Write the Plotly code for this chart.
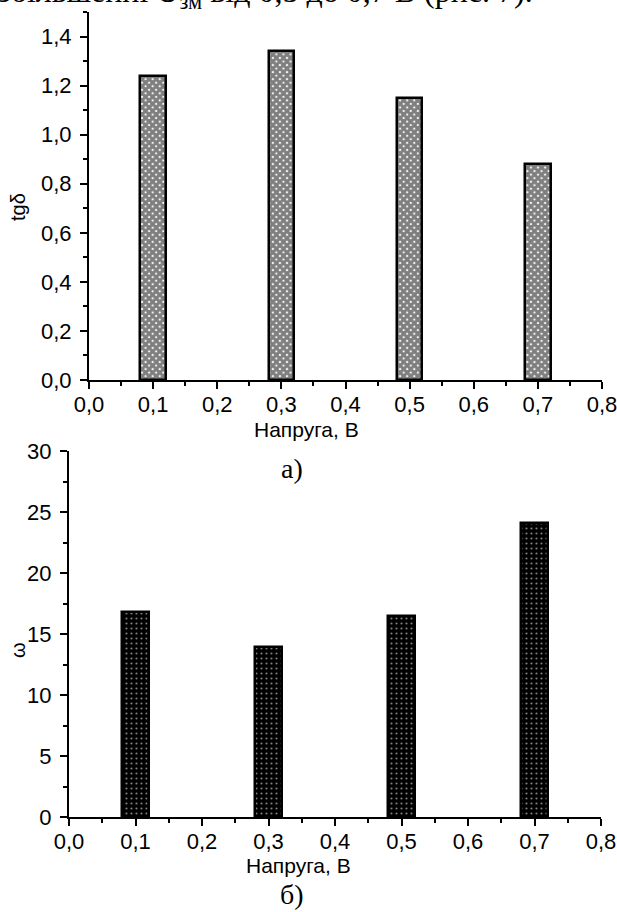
import plotly.graph_objects as go

# ---- data ----
voltage = [0.1, 0.3, 0.5, 0.7]
tg_delta = [1.24, 1.34, 1.15, 0.88]
omega = [16.8, 13.9, 16.5, 24.1]

x_ticks = [0.0, 0.1, 0.2, 0.3, 0.4, 0.5, 0.6, 0.7, 0.8]
y1_ticks = [0.0, 0.2, 0.4, 0.6, 0.8, 1.0, 1.2, 1.4]
y2_ticks = [0, 5, 10, 15, 20, 25, 30]

xlabel = "Напруга, В"
ylabel_top = "tgδ"
ylabel_bottom = "ω"
caption_top = "а)"
caption_bottom = "б)"
header_text = "збільшенні U<sub>зм</sub> від 0,5 до 0,7 В (рис. 7)."

W, H = 617, 912

def px(x):
    return x / W

def py(y):
    return 1 - y / H

fig = go.Figure()

fig.add_trace(go.Bar(
    x=voltage, y=tg_delta, width=0.04, xaxis="x", yaxis="y",
    marker=dict(color="white", line=dict(color="black", width=2.5),
                pattern=dict(shape="x", fgcolor="black", bgcolor="white",
                             size=5, solidity=0.85)),
    showlegend=False,
))
fig.add_trace(go.Bar(
    x=voltage, y=omega, width=0.042, xaxis="x2", yaxis="y2",
    marker=dict(color="black", line=dict(color="black", width=2.5),
                pattern=dict(shape=".", fgcolor="white", bgcolor="black",
                             size=5, solidity=0.15)),
    showlegend=False,
))

tickfont = dict(family="Liberation Sans, Arial", size=22, color="black")
axis_common = dict(showline=True, linewidth=2, linecolor="black", showgrid=False,
                   zeroline=False, ticks="outside", ticklen=7, tickwidth=2,
                   tickcolor="black", tickfont=tickfont, automargin=False,
                   ticklabeloverflow="allow")

fig.update_layout(
    width=W, height=H,
    margin=dict(l=0, r=0, t=0, b=0),
    paper_bgcolor="white", plot_bgcolor="white",
    separators=", ",
    bargap=0,
    xaxis=dict(domain=[px(89), px(602)], range=[0, 0.8], anchor="y",
               tickvals=x_ticks, tickformat=".1f", ticklabelstandoff=-3,
               minor=dict(dtick=0.05, tick0=0, ticks="outside", ticklen=4,
                          tickwidth=2, tickcolor="black"),
               **axis_common),
    yaxis=dict(domain=[py(380), py(12)], range=[0, 1.5], anchor="x",
               tickvals=y1_ticks, tickformat=".1f", ticklabelstandoff=4,
               minor=dict(dtick=0.1, tick0=0, ticks="outside", ticklen=4,
                          tickwidth=2, tickcolor="black"),
               **axis_common),
    xaxis2=dict(domain=[px(69), px(601)], range=[0, 0.8], anchor="y2",
                tickvals=x_ticks, tickformat=".1f", ticklabelstandoff=-3,
                minor=dict(dtick=0.05, tick0=0, ticks="outside", ticklen=4,
                           tickwidth=2, tickcolor="black"),
                **axis_common),
    yaxis2=dict(domain=[py(817), py(451)], range=[0, 30], anchor="x2",
                tickvals=y2_ticks, tickformat="d", ticklabelstandoff=4,
                minor=dict(dtick=2.5, tick0=0, ticks="outside", ticklen=4,
                           tickwidth=2, tickcolor="black"),
                **axis_common),
)

lab_font = dict(family="Liberation Sans, Arial", size=21, color="black")
ylab_font = dict(family="Liberation Sans, Arial", size=20, color="black")
serif_font = dict(family="Liberation Serif, Times New Roman", size=28, color="black")
header_font = dict(family="Liberation Serif, Times New Roman", size=32, color="black")

ann = [
    dict(text=xlabel, x=px(306), y=py(429), font=lab_font),
    dict(text=xlabel, x=px(298), y=py(865), font=lab_font),
    dict(text=ylabel_top, x=px(18), y=py(207), font=ylab_font, textangle=-90),
    dict(text=ylabel_bottom, x=px(18), y=py(650), font=ylab_font, textangle=-90),
    dict(text=caption_top, x=px(292), y=py(469), font=serif_font),
    dict(text=caption_bottom, x=px(292), y=py(894), font=serif_font),
    dict(text=header_text, x=px(-4), y=py(-7), font=header_font, xanchor="left"),
]
for a in ann:
    a.setdefault("xanchor", "center")
    a.setdefault("yanchor", "middle")
    fig.add_annotation(xref="paper", yref="paper", showarrow=False, **a)

fig.write_html("out.html",
               config={"displayModeBar": False},
               post_script="document.body.style.margin='0px';"
                           "document.body.style.overflow='hidden';")
